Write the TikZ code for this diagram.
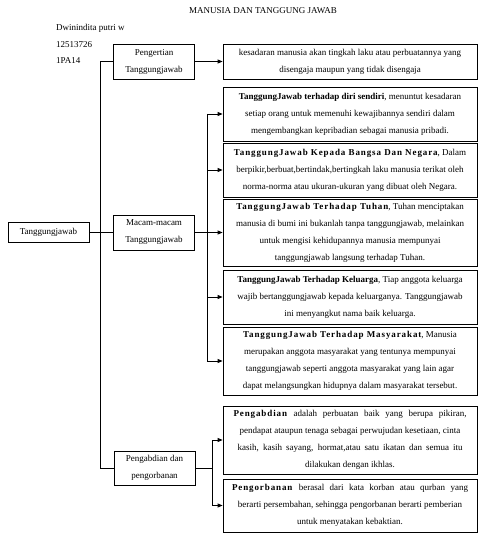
\documentclass[tikz,border=0pt]{standalone}
\usepackage{fontspec}
\setmainfont{Liberation Serif}
\usetikzlibrary{arrows.meta}
\newcommand\lsb[1]{\textbf{\addfontfeature{LetterSpace=10}#1}}
\begin{document}
\begin{tikzpicture}[x=1pt,y=-1pt,
  every node/.style={font=\fontsize{9}{17}\selectfont},
  lbox/.style={draw,line width=0.8pt,minimum width=81pt,inner sep=0pt,align=center},
  rbox/.style={draw,line width=0.8pt,minimum width=254pt,inner sep=0pt,align=center},
  plain/.style={inner sep=0pt,anchor=west},
  conn/.style={line width=0.8pt},
  arr/.style={line width=0.8pt,-{Triangle[length=5pt,width=4pt]}}]
\useasboundingbox (0,0) rectangle (484,540);
% header texts
\node[inner sep=0pt] (title) at (263,11) {MANUSIA DAN TANGGUNG JAWAB};
\node[plain] (n1) at (56,28) {Dwinindita putri w};
\node[plain] (n2) at (56,45) {12513726};
\node[plain] (n3) at (56,61) {1PA14};
% left column
\node[lbox,minimum height=20pt] (tj) at (48.5,232.5) {Tanggungjawab};
\node[lbox,minimum height=35pt] (pg) at (154,61.5) {Pengertian\\Tanggungjawab};
\node[lbox,minimum height=35pt] (mc) at (154,232.5) {Macam-macam\\Tanggungjawab};
\node[lbox,minimum height=34pt] (pb) at (154.5,468) {Pengabdian dan\\pengorbanan};
% right column
\node[rbox,minimum height=35pt] (ks) at (350,61.5) {kesadaran manusia akan tingkah laku atau perbuatannya yang\\disengaja maupun yang tidak disengaja};
\node[rbox,minimum height=54pt] (b1) at (350,114) {\textbf{TanggungJawab terhadap diri sendiri}, menuntut kesadaran\\setiap orang untuk memenuhi kewajibannya sendiri dalam\\mengembangkan kepribadian sebagai manusia pribadi.};
\node[rbox,minimum height=54pt] (b2) at (350,170) {\lsb{TanggungJawab Kepada Bangsa Dan Negara}, Dalam\\berpikir,berbuat,bertindak,bertingkah laku manusia terikat oleh\\norma-norma atau ukuran-ukuran yang dibuat oleh Negara.};
\node[rbox,minimum height=67pt] (b3) at (350,232.5) {\lsb{TanggungJawab Terhadap Tuhan}, Tuhan menciptakan\\manusia di bumi ini bukanlah tanpa tanggungjawab, melainkan\\untuk mengisi kehidupannya manusia mempunyai\\tanggungjawab langsung terhadap Tuhan.};
\node[rbox,minimum height=54pt] (b4) at (350,297) {\textbf{TanggungJawab Terhadap Keluarga}, Tiap anggota keluarga\\wajib bertanggungjawab kepada keluarganya. Tanggungjawab\\ini menyangkut nama baik keluarga.};
\node[rbox,minimum height=68pt] (b5) at (350,361) {\lsb{TanggungJawab Terhadap Masyarakat}, Manusia\\merupakan anggota masyarakat yang tentunya mempunyai\\tanggungjawab seperti anggota masyarakat yang lain agar\\dapat melangsungkan hidupnya dalam masyarakat tersebut.};
\node[rbox,minimum height=68pt] (b6) at (350,440) {\makebox[233pt][s]{\lsb{Pengabdian} adalah perbuatan baik yang berupa pikiran,}\\pendapat ataupun tenaga sebagai perwujudan kesetiaan, cinta\\\makebox[225pt][s]{kasih, kasih sayang, hormat,atau satu ikatan dan semua itu}\\dilakukan dengan ikhlas.};
\node[rbox,minimum height=53pt] (b7) at (350,505.5) {\makebox[236pt][s]{\lsb{Pengorbanan} berasal dari kata korban atau qurban yang}\\berarti persembahan, sehingga pengorbanan berarti pemberian\\untuk menyatakan kebaktian.};
% spine coordinates
\coordinate (s1t) at (100,61.5);
\coordinate (s1b) at (100,468);
\coordinate (s2t) at (207,114);
\coordinate (s2b) at (207,361);
\coordinate (s3t) at (212,440);
\coordinate (s3b) at (212,505.5);
\coordinate (s3m) at (212,468);
% connectors
\draw[conn] (s1t) -- (s1b);
\draw[conn] (s1t) -- (pg.west);
\draw[conn] (s1b) -- (pb.west);
\draw[conn] (tj.east) -- (mc.west);
\draw[arr] (pg.east) -- (ks.west);
\draw[arr] (mc.east) -- (b3.west);
\draw[conn] (s2t) -- (s2b);
\draw[arr] (s2t) -- (b1.west);
\draw[arr] (s2t |- b2.west) -- (b2.west);
\draw[arr] (s2t |- b4.west) -- (b4.west);
\draw[arr] (s2b) -- (b5.west);
\draw[conn] (pb.east) -- (s3m);
\draw[conn] (s3t) -- (s3b);
\draw[arr] (s3t) -- (b6.west);
\draw[arr] (s3b) -- (b7.west);
\end{tikzpicture}
\end{document}
